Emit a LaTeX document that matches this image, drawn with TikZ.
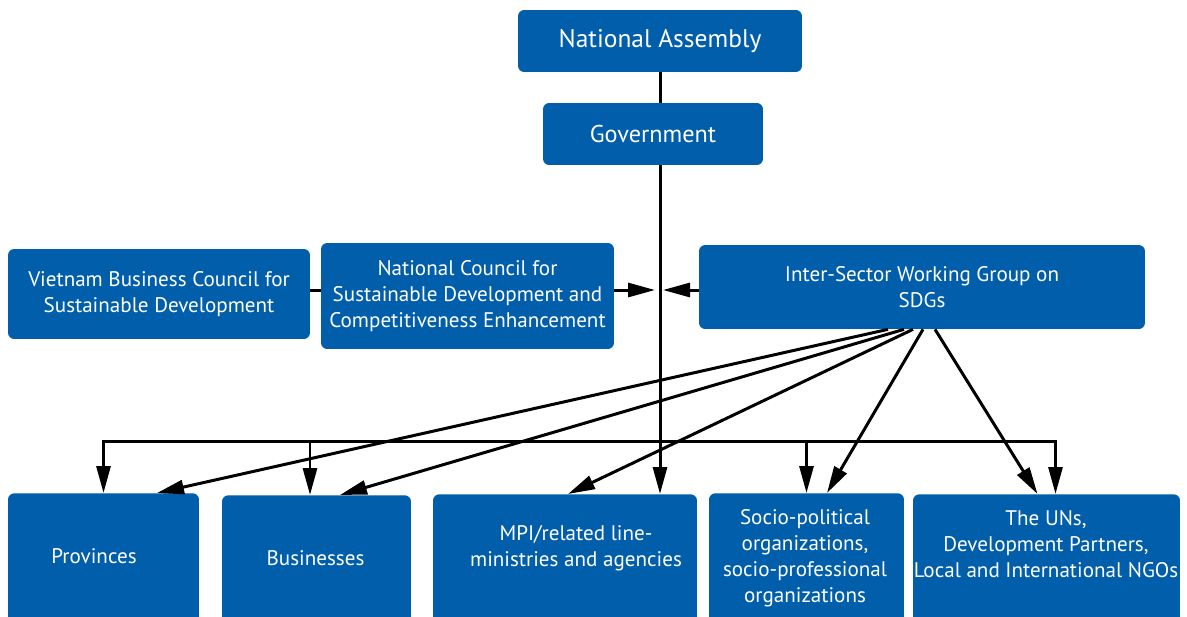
\documentclass[tikz,border=0pt]{standalone}
\usepackage{fontspec}
\setmainfont{PT Sans}
\usetikzlibrary{arrows.meta}
\definecolor{orgblue}{RGB}{0,94,170}
\tikzset{
    box/.style={fill=orgblue, rounded corners=3.5pt, text=white, align=center, inner sep=0pt, font=\fontsize{12}{14.7}\selectfont},
    boxtext/.style={text=white, align=center, inner sep=0pt, font=\fontsize{12}{14.7}\selectfont},
    arr/.style={line width=1.7pt, -{Triangle[length=0.54cm,width=0.28cm]}},
    link/.style={line width=1.7pt}
}
\begin{document}
\begin{tikzpicture}[x=0.02cm,y=-0.02cm]
    \useasboundingbox (0,0) rectangle (1187,616);
    % top of the chain
    \node[box, minimum width=5.68cm, minimum height=1.24cm, font=\fontsize{14.5}{17}\selectfont] (na) at (660,41) {National Assembly};
    \node[box, minimum width=4.4cm, minimum height=1.24cm, font=\fontsize{13.8}{16}\selectfont] (gov) at (653,134) {Government};
    \node[box, minimum width=6.04cm, minimum height=1.8cm] (vbc) at (159,294) {Vietnam Business Council for\\Sustainable Development};
    \node[box, minimum width=5.86cm, minimum height=2.12cm] (ncsd) at (467.5,296) {National Council for\\Sustainable Development and\\Competitiveness Enhancement};
    \node[box, minimum width=8.92cm, minimum height=1.68cm] (isg) at (922,287) {Inter-Sector Working Group on\\SDGs};
    % bottom row
    \node[box, anchor=north, minimum width=3.82cm, minimum height=2.8cm] (prov) at (103.5,493) {};
    \node[box, anchor=north, minimum width=3.78cm, minimum height=2.8cm] (bsn) at (316.5,495) {};
    \node[box, anchor=north, minimum width=5.28cm, minimum height=2.8cm] (mpi) at (565,494) {};
    \node[box, anchor=north, minimum width=3.9cm, minimum height=2.8cm] (socio) at (806.5,493) {};
    \node[box, anchor=north, minimum width=5.34cm, minimum height=2.8cm] (uns) at (1046.5,494) {};
    \node[boxtext] (prov-t) at (94,556) {Provinces};
    \node[boxtext] (bsn-t) at (315.5,558) {Businesses};
    \node[boxtext] (mpi-t) at (576,548) {MPI/related line-\\ministries and agencies};
    \node[boxtext] (socio-t) at (805,558) {Socio-political\\organizations,\\socio-professional\\organizations};
    \node[boxtext] (uns-t) at (1046,544) {The UNs,\\Development Partners,\\Local and International NGOs};

    \coordinate (mid) at (660,290);
    \coordinate (bus) at (660,441);
    \draw[link] (na.south) -- (na.south |- gov.north);
    \draw[arr] (na.south |- gov.south) -- (na.south |- mpi.north);
    \draw[link] (vbc.east |- mid) -- (ncsd.west |- mid);
    \draw[arr] (ncsd.east |- mid) -- ([xshift=-0.1cm]mid);
    \draw[arr] (isg.west |- mid) -- ([xshift=0.06cm]mid);
    \draw[arr] (bus) -| (prov.north);
    \draw[arr] (bus) -| ([xshift=-0.13cm]bsn.north);
    \draw[arr] (bus) -| (socio.north);
    \draw[arr] (bus) -| ([xshift=0.18cm]uns.north);
    \draw[arr] ([xshift=-0.68cm]isg.south) -- ([xshift=1.07cm]prov.north);
    \draw[arr] ([xshift=-0.36cm]isg.south) -- ([xshift=0.47cm]bsn.north);
    \draw[arr] ([xshift=-0.18cm]isg.south) -- ([xshift=0.06cm]mpi.north);
    \draw[arr] ([xshift=0.02cm]isg.south) -- ([xshift=0.41cm]socio.north);
    \draw[arr] ([xshift=0.26cm]isg.south) -- ([xshift=-0.18cm]uns.north);
\end{tikzpicture}
\end{document}
